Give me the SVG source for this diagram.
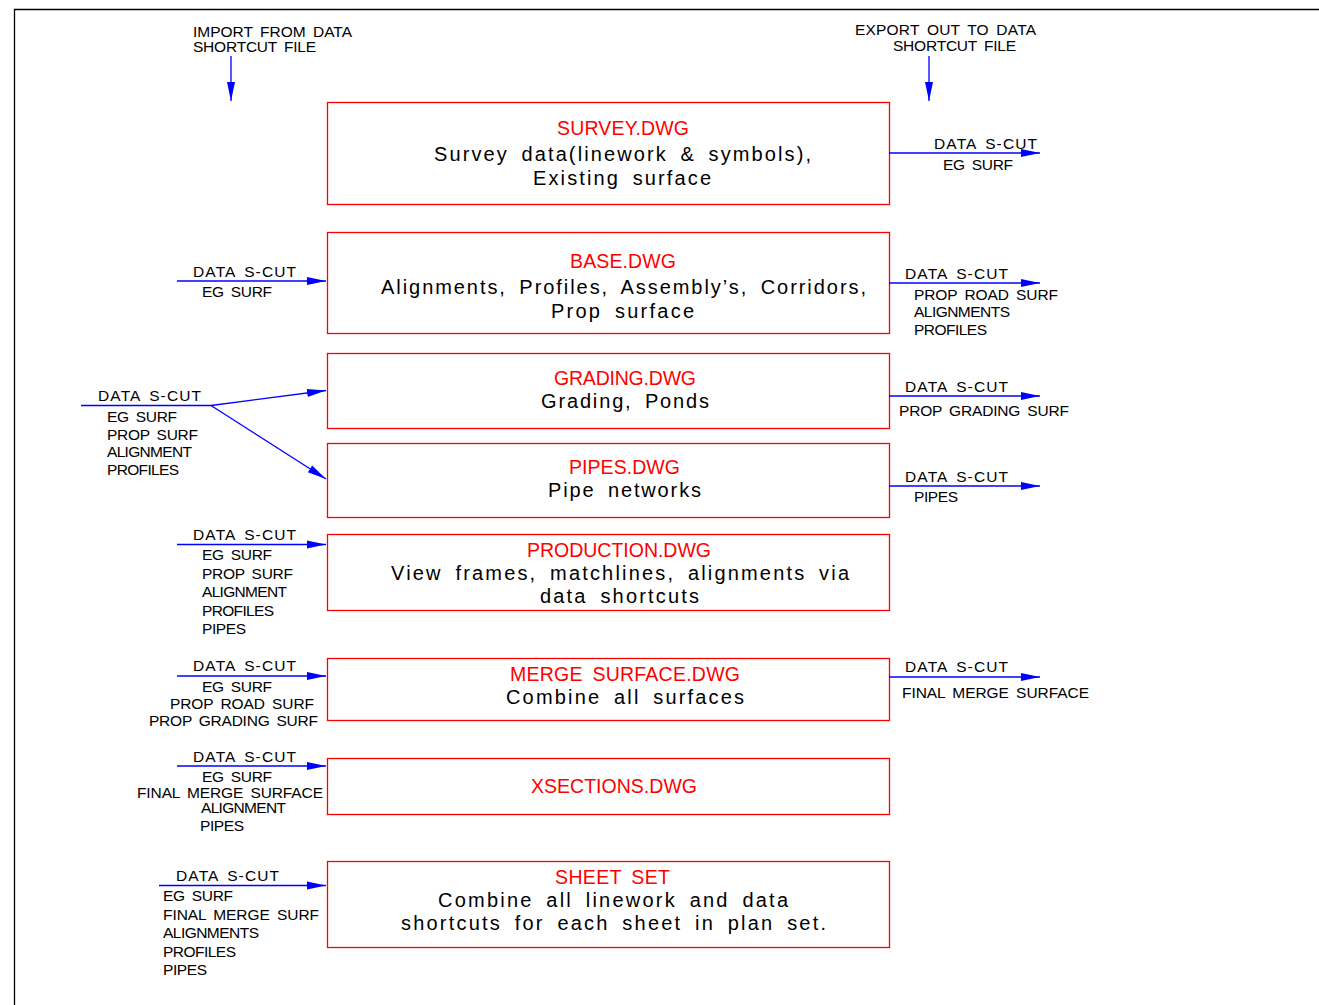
<svg xmlns="http://www.w3.org/2000/svg" width="1319" height="1005" viewBox="0 0 1319 1005">
<defs>
<marker id="ah" markerUnits="userSpaceOnUse" markerWidth="20" markerHeight="10" refX="19" refY="4.5" orient="auto">
<path d="M0,0.5 L19,4.5 L0,8.5 Z" fill="#0000ff"/>
</marker>
<style>
.box{fill:#fff;stroke:#ff0000;stroke-width:1.3}
.ttl{font-family:"Liberation Sans",Arial,sans-serif;font-size:19.5px;fill:#ff0000;word-spacing:4px}
.bdy{font-family:"Liberation Sans",Arial,sans-serif;font-size:20px;fill:#000;word-spacing:5px}
.lbl{font-family:"Liberation Sans",Arial,sans-serif;font-size:15.5px;fill:#000;word-spacing:3px}
.cn{stroke:#0000ff;stroke-width:1.3;fill:none;marker-end:url(#ah)}
.cnp{stroke:#0000ff;stroke-width:1.3;fill:none}
.frame{stroke:#000;stroke-width:1.3;fill:none}
</style>
</defs>
<rect width="1319" height="1005" fill="#fff"/>
<path class="frame" d="M1319,9.5 H14.5 V1005"/>

<g id="top-labels">
<text class="lbl" x="193" y="37" textLength="159">IMPORT FROM DATA</text>
<text class="lbl" x="193" y="52" textLength="123">SHORTCUT FILE</text>
<text class="lbl" x="855" y="35" textLength="181">EXPORT OUT TO DATA</text>
<text class="lbl" x="893" y="51" textLength="123">SHORTCUT FILE</text>
</g>

<g id="survey">
<rect class="box" x="327.5" y="102.5" width="562" height="102"/>
<text class="ttl" x="557" y="135" textLength="132">SURVEY.DWG</text>
<text class="bdy" x="434" y="161" textLength="377">Survey data(linework &amp; symbols),</text>
<text class="bdy" x="533" y="185" textLength="178">Existing surface</text>
</g>

<g id="base">
<rect class="box" x="327.5" y="232.5" width="562" height="101"/>
<text class="ttl" x="570" y="268" textLength="106">BASE.DWG</text>
<text class="bdy" x="381" y="294" textLength="485">Alignments, Profiles, Assembly’s, Corridors,</text>
<text class="bdy" x="551" y="318" textLength="143">Prop surface</text>
</g>

<g id="grading">
<rect class="box" x="327.5" y="353.5" width="562" height="75"/>
<text class="ttl" x="554" y="385" textLength="142">GRADING.DWG</text>
<text class="bdy" x="541" y="408" textLength="168">Grading, Ponds</text>
</g>

<g id="pipes">
<rect class="box" x="327.5" y="443.5" width="562" height="74"/>
<text class="ttl" x="569" y="474" textLength="111">PIPES.DWG</text>
<text class="bdy" x="548" y="497" textLength="153">Pipe networks</text>
</g>

<g id="production">
<rect class="box" x="327.5" y="534.5" width="562" height="76"/>
<text class="ttl" x="527" y="557" textLength="184">PRODUCTION.DWG</text>
<text class="bdy" x="391" y="580" textLength="458">View frames, matchlines, alignments via</text>
<text class="bdy" x="540" y="603" textLength="159">data shortcuts</text>
</g>

<g id="merge">
<rect class="box" x="327.5" y="658.5" width="562" height="62"/>
<text class="ttl" x="510" y="681" textLength="230">MERGE SURFACE.DWG</text>
<text class="bdy" x="506" y="704" textLength="238">Combine all surfaces</text>
</g>

<g id="xsections">
<rect class="box" x="327.5" y="758.5" width="562" height="56"/>
<text class="ttl" x="531" y="793" textLength="166">XSECTIONS.DWG</text>
</g>

<g id="sheetset">
<rect class="box" x="327.5" y="861.5" width="562" height="86"/>
<text class="ttl" x="555" y="884" textLength="115">SHEET SET</text>
<text class="bdy" x="438" y="907" textLength="350">Combine all linework and data</text>
<text class="bdy" x="401" y="930" textLength="425">shortcuts for each sheet in plan set.</text>
</g>

<g id="connectors">
<line class="cn" x1="231" y1="56" x2="231" y2="101"/>
<line class="cn" x1="929" y1="56" x2="929" y2="101"/>
<line class="cn" x1="889" y1="153" x2="1040" y2="153"/>
<line class="cn" x1="177" y1="281" x2="326" y2="281"/>
<line class="cn" x1="889" y1="283" x2="1040" y2="283"/>
<line class="cnp" x1="81" y1="405.5" x2="211" y2="405.5"/>
<line class="cn" x1="211" y1="405.5" x2="326" y2="390.5"/>
<line class="cn" x1="211" y1="405.5" x2="326" y2="479"/>
<line class="cn" x1="889" y1="396" x2="1040" y2="396"/>
<line class="cn" x1="889" y1="486" x2="1040" y2="486"/>
<line class="cn" x1="177" y1="544.5" x2="326" y2="544.5"/>
<line class="cn" x1="177" y1="676" x2="326" y2="676"/>
<line class="cn" x1="889" y1="677" x2="1040" y2="677"/>
<line class="cn" x1="177" y1="766" x2="326" y2="766"/>
<line class="cn" x1="159" y1="885.5" x2="326" y2="885.5"/>
</g>

<g id="connector-labels">
<text class="lbl" x="934" y="149" textLength="103">DATA S-CUT</text>
<text class="lbl" x="943" y="170" textLength="70">EG SURF</text>

<text class="lbl" x="193" y="277" textLength="103">DATA S-CUT</text>
<text class="lbl" x="202" y="297" textLength="70">EG SURF</text>

<text class="lbl" x="905" y="279" textLength="103">DATA S-CUT</text>
<text class="lbl" x="914" y="300" textLength="144">PROP ROAD SURF</text>
<text class="lbl" x="914" y="317" textLength="96">ALIGNMENTS</text>
<text class="lbl" x="914" y="335" textLength="73">PROFILES</text>

<text class="lbl" x="98" y="401" textLength="103">DATA S-CUT</text>
<text class="lbl" x="107" y="422" textLength="70">EG SURF</text>
<text class="lbl" x="107" y="440" textLength="91">PROP SURF</text>
<text class="lbl" x="107" y="457" textLength="85">ALIGNMENT</text>
<text class="lbl" x="107" y="475" textLength="72">PROFILES</text>

<text class="lbl" x="905" y="392" textLength="103">DATA S-CUT</text>
<text class="lbl" x="899" y="416" textLength="170">PROP GRADING SURF</text>

<text class="lbl" x="905" y="482" textLength="103">DATA S-CUT</text>
<text class="lbl" x="914" y="502" textLength="44">PIPES</text>

<text class="lbl" x="193" y="540" textLength="103">DATA S-CUT</text>
<text class="lbl" x="202" y="560" textLength="70">EG SURF</text>
<text class="lbl" x="202" y="579" textLength="91">PROP SURF</text>
<text class="lbl" x="202" y="597" textLength="85">ALIGNMENT</text>
<text class="lbl" x="202" y="616" textLength="72">PROFILES</text>
<text class="lbl" x="202" y="634" textLength="44">PIPES</text>

<text class="lbl" x="193" y="671" textLength="103">DATA S-CUT</text>
<text class="lbl" x="202" y="692" textLength="70">EG SURF</text>
<text class="lbl" x="170" y="709" textLength="144">PROP ROAD SURF</text>
<text class="lbl" x="149" y="726" textLength="169">PROP GRADING SURF</text>

<text class="lbl" x="905" y="672" textLength="103">DATA S-CUT</text>
<text class="lbl" x="902" y="698" textLength="187">FINAL MERGE SURFACE</text>

<text class="lbl" x="193" y="762" textLength="103">DATA S-CUT</text>
<text class="lbl" x="202" y="782" textLength="70">EG SURF</text>
<text class="lbl" x="137" y="798" textLength="186">FINAL MERGE SURFACE</text>
<text class="lbl" x="201" y="813" textLength="85">ALIGNMENT</text>
<text class="lbl" x="200" y="831" textLength="44">PIPES</text>

<text class="lbl" x="176" y="881" textLength="103">DATA S-CUT</text>
<text class="lbl" x="163" y="901" textLength="70">EG SURF</text>
<text class="lbl" x="163" y="920" textLength="156">FINAL MERGE SURF</text>
<text class="lbl" x="163" y="938" textLength="96">ALIGNMENTS</text>
<text class="lbl" x="163" y="957" textLength="73">PROFILES</text>
<text class="lbl" x="163" y="975" textLength="44">PIPES</text>
</g>
</svg>
